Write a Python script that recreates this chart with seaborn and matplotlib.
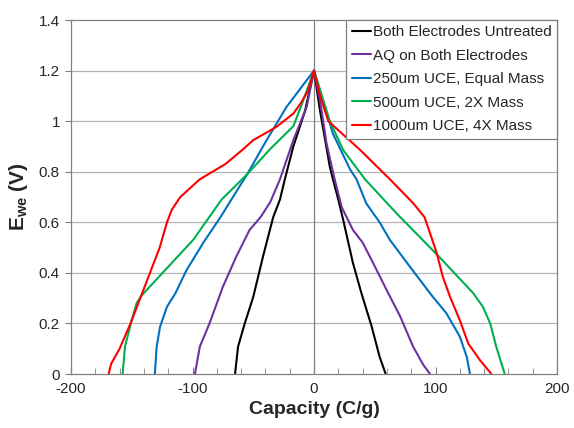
# Galvanostatic discharge/charge curves - recreated with seaborn
import seaborn as sns
import matplotlib.pyplot as plt
import pandas as pd
from matplotlib.ticker import MultipleLocator

# Series names and colours
labels = ['Both Electrodes Untreated', 'AQ on Both Electrodes',
          '250um UCE, Equal Mass', '500um UCE, 2X Mass', '1000um UCE, 4X Mass']
colors = ['#000000', '#7030A0', '#0070C0', '#00B050', '#FF0000']

# Capacity (C/g) and voltage (V), traced left branch bottom -> peak -> right branch bottom
untreated_x = [-65, -62.5, -57, -50, -42, -33.6, -28, -24, -17, -7.4, 0,
               5, 13, 15.6, 20, 24, 32, 39, 47.5, 54, 59]
untreated_y = [0, 0.108, 0.2, 0.305, 0.464, 0.62, 0.69, 0.77, 0.9, 1.04, 1.2,
               1.04, 0.82, 0.77, 0.69, 0.61, 0.44, 0.32, 0.187, 0.068, 0]

aq_x = [-98, -94, -86, -75, -64, -53, -44, -36, -28, -17, -6, 0,
        5, 10.4, 17, 22.8, 32, 40, 47.5, 60, 71, 81.6, 90, 95.5]
aq_y = [0, 0.108, 0.2, 0.345, 0.464, 0.57, 0.62, 0.68, 0.77, 0.925, 1.057, 1.2,
        1.08, 0.91, 0.77, 0.66, 0.57, 0.52, 0.45, 0.33, 0.227, 0.108, 0.036, 0]

uce250_x = [-131, -129.5, -126.7, -121, -114, -105, -91, -77, -68, -55, -39, -22.5, 0,
            15.6, 29.6, 35, 43, 54, 62.5, 79, 97, 109, 120, 125.7, 128.4]
uce250_y = [0, 0.108, 0.187, 0.266, 0.32, 0.41, 0.52, 0.62, 0.69, 0.79, 0.925, 1.057, 1.2,
            0.95, 0.81, 0.77, 0.675, 0.6, 0.53, 0.424, 0.31, 0.24, 0.148, 0.068, 0]

uce500_x = [-157.5, -155.6, -150, -146, -142, -99.5, -76, -55, -36, -17, -9, 0,
            13, 24, 42, 68, 103.7, 131, 139, 145, 150, 157]
uce500_y = [0, 0.108, 0.213, 0.28, 0.31, 0.53, 0.69, 0.79, 0.89, 0.98, 1.08, 1.2,
            1.0, 0.886, 0.77, 0.635, 0.46, 0.32, 0.266, 0.2, 0.108, 0]

uce1000_x = [-169, -167, -160, -151, -143, -135, -127, -121, -117, -110, -94, -73, -59,
             -50, -31, -17, -11, -5, 0,
             5, 11.8, 38, 62.5, 81.7, 91, 95.5, 101, 106, 112, 120, 127, 136.6, 146]
uce1000_y = [0, 0.04, 0.1, 0.2, 0.3, 0.4, 0.5, 0.6, 0.65, 0.7, 0.77, 0.83, 0.886,
             0.925, 0.977, 1.03, 1.07, 1.12, 1.2,
             1.1, 1.0, 0.886, 0.77, 0.675, 0.62, 0.557, 0.478, 0.385, 0.305, 0.213, 0.12, 0.055, 0]

xs = [untreated_x, aq_x, uce250_x, uce500_x, uce1000_x]
ys = [untreated_y, aq_y, uce250_y, uce500_y, uce1000_y]

frames = []
for name, x, y in zip(labels, xs, ys):
    frames.append(pd.DataFrame({'series': name, 'capacity': x, 'voltage': y}))
df = pd.concat(frames, ignore_index=True)

sns.set_style('white')
plt.rcParams['font.family'] = ['Liberation Sans', 'DejaVu Sans']
plt.rcParams['axes.unicode_minus'] = False
plt.rcParams['mathtext.fontset'] = 'custom'
plt.rcParams['mathtext.rm'] = 'Liberation Sans'
plt.rcParams['mathtext.bf'] = 'Liberation Sans:bold'

fig = plt.figure(figsize=(5.74, 4.28), dpi=100)
ax = fig.add_axes([71 / 574, 54 / 428, 486 / 574, 354 / 428])

# grid lines and the zero line go under the curves
for v in [0.2, 0.4, 0.6, 0.8, 1.0, 1.2]:
    ax.axhline(v, color='#b3b3b3', lw=0.9, zorder=0)
ax.axvline(0, color='#808080', lw=0.9, zorder=0)

sns.lineplot(data=df, x='capacity', y='voltage', hue='series', hue_order=labels,
             palette=colors, sort=False, estimator=None, lw=1.5, ax=ax)

ax.set_xlim(-200, 200)
ax.set_ylim(0, 1.4)
ax.xaxis.set_major_locator(MultipleLocator(100))
ax.xaxis.set_minor_locator(MultipleLocator(20))
ax.set_yticks([0, 0.2, 0.4, 0.6, 0.8, 1.0, 1.2, 1.4])
ax.set_yticklabels(['0', '0.2', '0.4', '0.6', '0.8', '1', '1.2', '1.4'])

for s in ax.spines.values():
    s.set_color('#808080')
    s.set_linewidth(0.9)
ax.tick_params(axis='x', which='both', direction='in', color='#808080',
               labelsize=11, pad=6, bottom=True)
ax.tick_params(axis='x', which='major', length=5)
ax.tick_params(axis='x', which='minor', length=4)
ax.tick_params(axis='y', which='major', direction='out', length=4, color='#808080',
               labelsize=11, left=True, pad=4)

ax.set_xlabel('Capacity (C/g)', fontsize=14, fontweight='bold', labelpad=3)
ax.set_ylabel(r'$\mathbf{E_{we}}$ (V)', fontsize=15, fontweight='bold', labelpad=6)

leg = ax.legend(loc='upper right', borderaxespad=0, fontsize=11, frameon=True,
                fancybox=False, edgecolor='#808080', handlelength=1.3,
                handletextpad=0.1, labelspacing=0.62, borderpad=0.35)
leg.get_frame().set_linewidth(0.9)
leg.get_frame().set_alpha(1)

plt.savefig('out.png', dpi=100)
